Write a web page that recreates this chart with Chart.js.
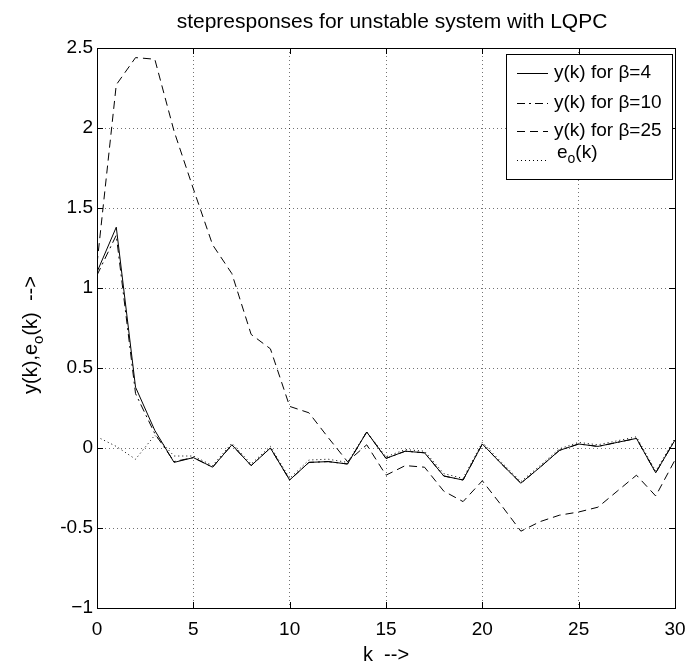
<!DOCTYPE html>
<html>
<head>
<meta charset="utf-8">
<script src="https://cdn.jsdelivr.net/npm/chart.js@4"></script>
<style>
  html, body { margin: 0; padding: 0; background: #fff; }
  #wrap { width: 687px; height: 667px; }
</style>
</head>
<body>
<div id="wrap"><canvas id="stepChart" width="687" height="667"></canvas></div>
<script>
// sample instants k
const kValues = [0, 1, 2, 3, 4, 5, 6, 7, 8, 9, 10, 11, 12, 13, 14, 15, 16, 17, 18, 19, 20, 21, 22, 23, 24, 25, 26, 27, 28, 29, 30];

// y(k) for beta = 4 (solid)
const yBeta4 = [1.10, 1.38, 0.38, 0.11, -0.09, -0.06, -0.12, 0.02, -0.11, 0.00, -0.20, -0.09, -0.085, -0.10, 0.10, -0.065, -0.02, -0.03, -0.175, -0.20, 0.025, -0.10, -0.22, -0.12, -0.015, 0.025, 0.01, 0.035, 0.06, -0.155, 0.05];
// y(k) for beta = 10 (dash-dot)
const yBeta10 = [1.08, 1.33, 0.34, 0.09, -0.085, -0.06, -0.12, 0.02, -0.11, 0.00, -0.20, -0.09, -0.085, -0.10, 0.10, -0.065, -0.02, -0.03, -0.175, -0.20, 0.025, -0.10, -0.22, -0.12, -0.015, 0.025, 0.01, 0.035, 0.06, -0.155, 0.05];
// y(k) for beta = 25 (dashed)
const yBeta25 = [1.15, 2.27, 2.44, 2.43, 1.98, 1.62, 1.27, 1.09, 0.71, 0.62, 0.26, 0.22, 0.065, -0.085, 0.02, -0.17, -0.11, -0.12, -0.27, -0.335, -0.205, -0.36, -0.52, -0.46, -0.42, -0.40, -0.37, -0.27, -0.17, -0.30, -0.075];
// e_o(k) (dotted)
const eo = [0.07, 0.01, -0.07, 0.08, -0.05, -0.05, -0.11, 0.03, -0.10, 0.01, -0.19, -0.075, -0.07, -0.09, 0.10, -0.055, -0.01, -0.02, -0.16, -0.19, 0.035, -0.09, -0.21, -0.11, -0.005, 0.035, 0.02, 0.045, 0.07, -0.145, 0.06];

const legendLabels = ['y(k) for β=4', 'y(k) for β=10', 'y(k) for β=25', 'e_o(k)'];
const xTickLabels = ['0', '5', '10', '15', '20', '25', '30'];
const yTickLabels = ['−1', '-0.5', '0', '0.5', '1', '1.5', '2', '2.5'];
const chartTitle = 'stepresponses for unstable system with LQPC';

const FONT = '"Liberation Sans", Arial, Helvetica, sans-serif';

const toPoints = (ys) => kValues.map((k, i) => ({ x: k, y: ys[i] }));

// draws "base_sub rest" text with a lowered subscript
const drawSubText = (ctx, text, x, y, size, align) => {
    const parts = text.split('_');
    const main = `${size}px ${FONT}`;
    const small = `${Math.round(size * 0.75)}px ${FONT}`;
    let pieces = [{ t: parts[0], f: main, dy: 0 }];
    if (parts.length > 1) {
        pieces.push({ t: parts[1][0], f: small, dy: size * 0.3 });
        pieces.push({ t: parts[1].slice(1), f: main, dy: 0 });
    }
    let total = 0;
    pieces.forEach(p => { ctx.font = p.f; p.w = ctx.measureText(p.t).width; total += p.w; });
    let cx = align === 'center' ? x - total / 2 : x;
    ctx.textAlign = 'left';
    pieces.forEach(p => {
        ctx.font = p.f;
        ctx.fillText(p.t, cx, y + p.dy);
        cx += p.w;
    });
};

const framePlugin = {
    id: 'frame',
    afterDatasetsDraw(chart) {
        const { ctx, chartArea: a, scales: { x, y } } = chart;
        ctx.save();
        ctx.setLineDash([]);
        ctx.strokeStyle = '#000';
        ctx.lineWidth = 1;
        ctx.strokeRect(Math.round(a.left) + 0.5, Math.round(a.top) + 0.5, Math.round(a.right - a.left), Math.round(a.bottom - a.top));

        // inward tick marks on all four sides
        ctx.beginPath();
        x.ticks.forEach(t => {
            const px = Math.round(x.getPixelForValue(t.value)) + 0.5;
            ctx.moveTo(px, a.bottom); ctx.lineTo(px, a.bottom - 6);
            ctx.moveTo(px, a.top); ctx.lineTo(px, a.top + 6);
        });
        y.ticks.forEach(t => {
            const py = Math.round(y.getPixelForValue(t.value)) + 0.5;
            ctx.moveTo(a.left, py); ctx.lineTo(a.left + 6, py);
            ctx.moveTo(a.right, py); ctx.lineTo(a.right - 6, py);
        });
        ctx.stroke();

        // title over the axes box
        ctx.fillStyle = '#000';
        ctx.font = `21px ${FONT}`;
        ctx.textAlign = 'center';
        ctx.textBaseline = 'alphabetic';
        ctx.fillText(chartTitle, 392, 28);

        // legend box
        const box = { left: 506, top: 54, right: 672, bottom: 179 };
        ctx.fillStyle = '#fff';
        ctx.fillRect(box.left, box.top, box.right - box.left, box.bottom - box.top);
        ctx.strokeRect(box.left + 0.5, box.top + 0.5, box.right - box.left, box.bottom - box.top);
        const rows = [73, 103, 131, 160];
        chart.data.datasets.forEach((ds, i) => {
            const ry = rows[i] + 0.5;
            ctx.save();
            ctx.setLineDash(ds.borderDash || []);
            ctx.strokeStyle = ds.borderColor;
            ctx.lineWidth = ds.borderWidth;
            ctx.beginPath();
            ctx.moveTo(517, ry);
            ctx.lineTo(548, ry);
            ctx.stroke();
            ctx.restore();
            ctx.fillStyle = '#000';
            ctx.textBaseline = 'middle';
            const ty = i === 3 ? rows[i] - 7 : rows[i];
            drawSubText(ctx, ds.label, i === 3 ? 557 : 554, ty, 19, 'left');
        });

        // y axis title with subscript
        ctx.save();
        ctx.translate(37, 335);
        ctx.rotate(-Math.PI / 2);
        ctx.fillStyle = '#000';
        ctx.textBaseline = 'alphabetic';
        drawSubText(ctx, 'y(k),e_o(k)  -->', 0, 0, 20, 'center');
        ctx.restore();
        ctx.restore();
    }
};

const gridLook = {
    color: 'rgba(0,0,0,0.55)',
    lineWidth: 1,
    drawTicks: false,
};

new Chart(document.getElementById('stepChart'), {
    type: 'line',
    data: {
        datasets: [
            { label: legendLabels[0], data: toPoints(yBeta4), borderColor: '#000', borderWidth: 1, borderDash: [] },
            { label: legendLabels[1], data: toPoints(yBeta10), borderColor: '#000', borderWidth: 1, borderDash: [8, 4, 2, 4] },
            { label: legendLabels[2], data: toPoints(yBeta25), borderColor: '#000', borderWidth: 1, borderDash: [8, 5] },
            { label: legendLabels[3], data: toPoints(eo), borderColor: '#000', borderWidth: 1, borderDash: [1, 3] },
        ],
    },
    options: {
        responsive: false,
        animation: false,
        elements: { point: { radius: 0 }, line: { tension: 0, fill: false } },
        layout: { padding: { left: 0, right: 12, top: 48, bottom: 0 } },
        plugins: {
            legend: { display: false },
            tooltip: { enabled: false },
            title: { display: false },
        },
        scales: {
            x: {
                type: 'linear',
                min: 0,
                max: 30,
                grid: gridLook,
                border: { display: false, dash: [1, 3] },
                ticks: {
                    stepSize: 5,
                    padding: 10,
                    color: '#000',
                    maxRotation: 0,
                    font: { family: FONT, size: 19 },
                    callback: (v) => xTickLabels[v / 5],
                },
                title: {
                    display: true,
                    text: 'k  -->',
                    color: '#000',
                    font: { family: FONT, size: 20 },
                    padding: { top: 0, bottom: 0 },
                },
                afterFit: (scale) => {
                    scale.height = 59;
                    scale.paddingLeft = 0;
                    scale.paddingRight = 0;
                },
            },
            y: {
                type: 'linear',
                min: -1,
                max: 2.5,
                grid: gridLook,
                border: { display: false, dash: [1, 3] },
                ticks: {
                    stepSize: 0.5,
                    padding: 4,
                    color: '#000',
                    font: { family: FONT, size: 19 },
                    callback: (v) => yTickLabels[Math.round((v + 1) / 0.5)],
                },
                afterFit: (scale) => { scale.width = 97; },
            },
        },
    },
    plugins: [framePlugin],
});
</script>
</body>
</html>
